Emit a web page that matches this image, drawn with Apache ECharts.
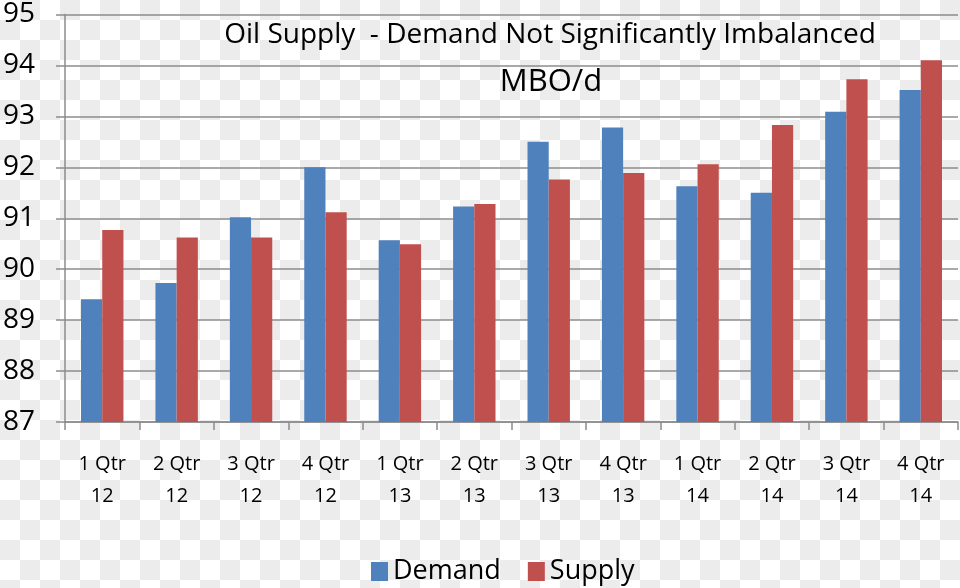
<!DOCTYPE html>
<html>
<head>
<meta charset="utf-8">
<script src="https://cdn.jsdelivr.net/npm/echarts@6/dist/echarts.min.js"></script>
<style>
  html, body { margin: 0; padding: 0; }
  body {
    width: 960px; height: 588px; overflow: hidden;
    background-color: #ffffff;
    background-image: conic-gradient(#ececec 0 25%, #ffffff 0 50%, #ececec 0 75%, #ffffff 0);
    background-size: 40px 40px;
    background-position: 0 0;
  }
  #chart { width: 960px; height: 588px; }
</style>
</head>
<body>
<div id="chart"></div>
<script>
const categories = ['1 Qtr\n12', '2 Qtr\n12', '3 Qtr\n12', '4 Qtr\n12',
                    '1 Qtr\n13', '2 Qtr\n13', '3 Qtr\n13', '4 Qtr\n13',
                    '1 Qtr\n14', '2 Qtr\n14', '3 Qtr\n14', '4 Qtr\n14'];
const demand = [89.41, 89.73, 91.02, 92.00, 90.57, 91.23, 92.50, 92.78, 91.63, 91.50, 93.09, 93.52];
const supply = [90.77, 90.62, 90.62, 91.12, 90.49, 91.28, 91.76, 91.89, 92.06, 92.83, 93.73, 94.10];
const yMin = 87, yMax = 95, yStep = 1;
const titleText = 'Oil Supply  - Demand Not Significantly Imbalanced';
const unitText = 'MBO/d';

const FONT = '"Open Sans", "Noto Sans", sans-serif';
const chart = echarts.init(document.getElementById('chart'), null, { renderer: 'canvas' });
chart.setOption({
  backgroundColor: 'transparent',
  animation: false,
  textStyle: { fontFamily: FONT, color: '#000' },
  title: [
    { text: titleText, left: 545, top: 16, textAlign: 'center',
      textStyle: { fontFamily: FONT, fontSize: 28, fontWeight: 'normal', color: '#000' } },
    { text: unitText, left: 546, top: 62, textAlign: 'center',
      textStyle: { fontFamily: FONT, fontSize: 31, fontWeight: 'normal', color: '#000' } }
  ],
  legend: {
    top: 553, left: 366,
    icon: 'rect', itemWidth: 17, itemHeight: 19, itemGap: 27,
    textStyle: { fontFamily: FONT, fontSize: 27, color: '#000', padding: [0, 0, 0, 0] },
    data: ['Demand', 'Supply']
  },
  grid: { left: 61, right: 2, top: 14.5, bottom: 166, containLabel: false },
  xAxis: {
    type: 'category',
    data: categories,
    axisLine: { show: true, lineStyle: { color: '#8c8c8c', width: 1.5 } },
    axisTick: { show: true, length: 8, lineStyle: { color: '#8c8c8c', width: 1.5 } },
    axisLabel: { fontFamily: FONT, fontSize: 20, color: '#000', margin: 26, lineHeight: 32 }
  },
  yAxis: {
    type: 'value',
    min: yMin, max: yMax, interval: yStep,
    axisLine: { show: true, lineStyle: { color: '#8c8c8c', width: 1.5 } },
    axisTick: { show: true, length: 9, lineStyle: { color: '#8c8c8c', width: 1.5 } },
    splitLine: { show: true, lineStyle: { color: '#8c8c8c', width: 1.5 } },
    axisLabel: { fontFamily: FONT, fontSize: 28, color: '#000', margin: 30 }
  },
  series: [
    { name: 'Demand', type: 'bar', data: demand, barGap: '0%', barCategoryGap: '43%',
      itemStyle: { color: '#4F81BD' } },
    { name: 'Supply', type: 'bar', data: supply, barGap: '0%', barCategoryGap: '43%',
      itemStyle: { color: '#C0504D' } }
  ]
});
</script>
</body>
</html>
